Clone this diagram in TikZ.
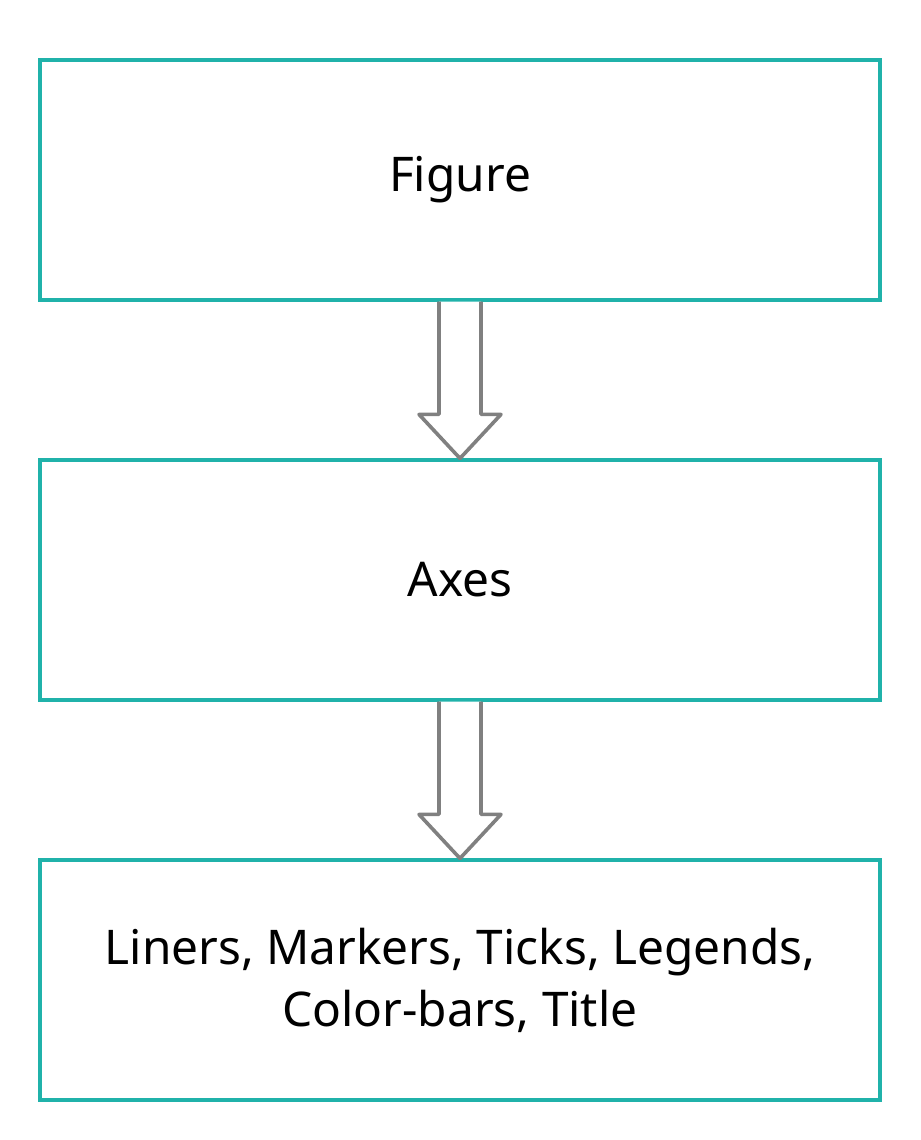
\documentclass[tikz,border=0pt]{standalone}
\usepackage{fontspec}
\setmainfont{Noto Sans}
\usetikzlibrary{calc}
\definecolor{boxteal}{HTML}{20B2AA}
\definecolor{arrowgrey}{HTML}{808080}
\tikzstyle{block} = [rectangle, minimum width=21cm, minimum height=6cm, text centered, align=center, draw=boxteal, line width=0.08cm, font=\fontsize{34}{44}\selectfont]
\tikzstyle{fatarrow} = [draw=arrowgrey, line width=0.09cm, line join=round, fill=white]
\begin{document}
\begin{tikzpicture}[node distance=10cm]
        \useasboundingbox (-11.5,4.5) rectangle (11.5,-24);

        \node (figure) [block] {Figure};
        \node (axes) [block, below of=figure] {Axes};
        \node (elements) [block, below of=axes] {Liners, Markers, Ticks, Legends,\\Color-bars, Title};

        \draw [fatarrow] ($(figure.south)+(-0.525,0)$) -- ($(axes.north)+(-0.525,1.1)$) -- ($(axes.north)+(-1.025,1.1)$) -- (axes.north) -- ($(axes.north)+(1.025,1.1)$) -- ($(axes.north)+(0.525,1.1)$) -- ($(figure.south)+(0.525,0)$);
        \draw [fatarrow] ($(axes.south)+(-0.525,0)$) -- ($(elements.north)+(-0.525,1.1)$) -- ($(elements.north)+(-1.025,1.1)$) -- (elements.north) -- ($(elements.north)+(1.025,1.1)$) -- ($(elements.north)+(0.525,1.1)$) -- ($(axes.south)+(0.525,0)$);

      \end{tikzpicture}
\end{document}
